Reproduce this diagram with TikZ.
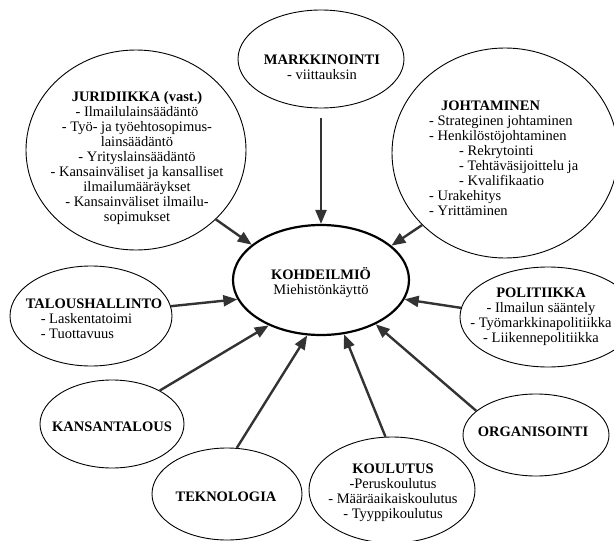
\documentclass[tikz,border=0pt]{standalone}
\usepackage{fontspec}
\setmainfont{Liberation Serif}
\usetikzlibrary{positioning,shapes.geometric,arrows.meta}
\definecolor{darkline}{gray}{0.2}
\tikzset{
  bubble/.style={ellipse, draw=black, line width=0.9pt, inner sep=0pt},
  core/.style={ellipse, draw=black, line width=2.2pt, inner sep=0pt, minimum width=176pt, minimum height=110pt},
  txt/.style={align=center, inner sep=0pt, font=\fontsize{14.5}{15}\selectfont},
  link/.style={draw=darkline, line width=2.4pt, -{Triangle[length=14pt,width=11pt]}},
}
\begin{document}
\begin{tikzpicture}[x=1pt,y=-1pt]
  \useasboundingbox (0,0) rectangle (614,541);

  \node[core] (kohde) at (321,280) {};
  \node[txt] (kohdetxt) at (321,283) {\textbf{KOHDEILMIÖ}\\Miehistönkäyttö};

  \node[bubble, minimum width=166pt, minimum height=98pt] (mark) at (321,59) {};
  \node[txt] (marktxt) at (322,67) {\textbf{MARKKINOINTI}\\- viittauksin};

  \node[bubble, minimum width=220pt, minimum height=200pt] (jur) at (136,150) {};
  \node[txt] (jurtxt) at (137,158) {\textbf{JURIDIIKKA (vast.)}\\- Ilmailulainsäädäntö\\- Työ- ja työehtosopimus-\\lainsäädäntö\\- Yrityslainsäädäntö\\- Kansainväliset ja kansalliset\\ilmailumääräykset\\- Kansainväliset ilmailu-\\sopimukset};

  \node[bubble, minimum width=226pt, minimum height=210pt] (joht) at (505,153) {};
  \node[txt, align=left, anchor=west] (johttxt) at (429,158) {\hspace*{12pt}\textbf{JOHTAMINEN}\\- Strateginen johtaminen\\- Henkilöstöjohtaminen\\\hspace*{30pt}- Rekrytointi\\\hspace*{30pt}- Tehtäväsijoittelu ja\\\hspace*{30pt}- Kvalifikaatio\\- Urakehitys\\- Yrittäminen};

  \node[bubble, minimum width=162pt, minimum height=100pt] (tal) at (91,316) {};
  \node[txt, align=left] (taltxt) at (94,319) {\textbf{TALOUSHALLINTO}\\\hspace*{15pt}- Laskentatoimi\\\hspace*{15pt}- Tuottavuus};

  \node[bubble, minimum width=176pt, minimum height=100pt] (polit) at (548,317) {};
  \node[txt] (polittxt) at (541,317) {\textbf{POLITIIKKA}\\- Ilmailun sääntely\\- Työmarkkinapolitiikka\\- Liikennepolitiikka};

  \node[bubble, minimum width=144pt, minimum height=88pt] (kansa) at (112,424) {};
  \node[txt] (kansatxt) at (112,427) {\textbf{KANSANTALOUS}};

  \node[bubble, minimum width=150pt, minimum height=92pt] (tekno) at (227,494) {};
  \node[txt] (teknotxt) at (226,497) {\textbf{TEKNOLOGIA}};

  \node[bubble, minimum width=166pt, minimum height=106pt] (koul) at (392,490) {};
  \node[txt] (koultxt) at (393,493) {\textbf{KOULUTUS}\\-Peruskoulutus\\- Määräaikaiskoulutus\\- Tyyppikoulutus};

  \node[bubble, minimum width=146pt, minimum height=82pt] (org) at (536,435) {};
  \node[txt] (orgtxt) at (533,432) {\textbf{ORGANISOINTI}};

  \begin{scope}[every path/.style=link]
    \path[shorten <=10pt] (mark.south) -- (kohde.north);
    \path (jur.-41) -- (kohde.153);
    \path (joht.221) -- (kohde.26);
    \path (tal.7) -- (kohde.193);
    \path (polit.174) -- (kohde.-13);
    \path (kansa.35) -- (kohde.221);
    \path (org.158) -- (kohde.-39);
    \path (tekno.78) -- (kohde.256);
    \path (koul.97) -- (kohde.293);
  \end{scope}
\end{tikzpicture}
\end{document}
